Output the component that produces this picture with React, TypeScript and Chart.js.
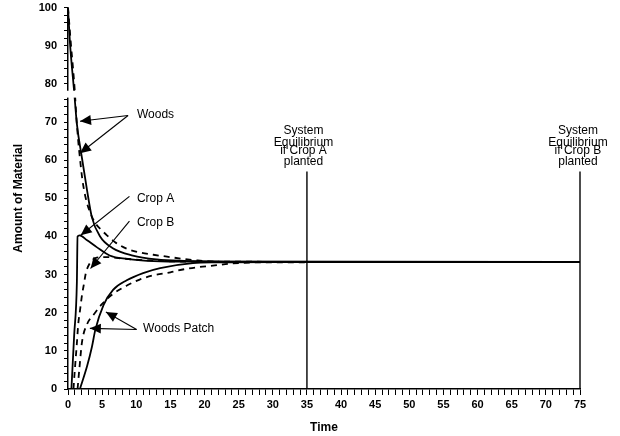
import React, { useEffect, useRef } from 'react';
import { Chart, registerables } from 'chart.js';

Chart.register(...registerables);

// ---- data (time, amount) ----
const woodsSolidT = [0, 0.3, 0.9, 1.3, 2.05, 2.8, 3.5, 4.7, 6.5, 9.5, 13, 17, 22, 75];
const woodsSolidV = [100, 90.5, 78, 69.5, 60.5, 52, 45, 40, 37, 35, 34, 33.6, 33.4, 33.3];

const woodsDashT = [0, 0.4, 1.0, 1.2, 1.5, 1.75, 2.1, 2.6, 3.2, 4, 5, 5.7, 6.9, 8.6, 10.5, 12.5, 14.5, 16.5, 19, 22, 26, 75];
const woodsDashV = [100, 91, 78, 72, 65, 60.5, 55, 50, 46.5, 43.5, 41.5, 40.3, 38.5, 36.8, 35.8, 35.2, 34.7, 34.2, 33.7, 33.4, 33.3, 33.3];

const cropAT = [0.5, 0.9, 1.3, 1.4, 1.7, 2.8, 4.2, 6.1, 8.6, 11.6, 16, 75];
const cropAV = [0, 14, 28, 40, 40.3, 39, 37.2, 35, 34.1, 33.6, 33.4, 33.3];

const cropBT = [0.8, 1.0, 1.3, 1.5, 1.75, 2.05, 2.35, 2.6, 3.2, 4, 5.5, 8, 12, 18, 75];
const cropBV = [0, 5, 12, 17, 20.5, 24.6, 27.7, 30.3, 33, 34.3, 34.6, 34.2, 33.7, 33.4, 33.3];

const patchSolidT = [1.75, 2.8, 3.5, 4, 5.2, 6.6, 8.6, 11, 13.5, 18.3, 22, 30, 75];
const patchSolidV = [0, 6, 11, 15.5, 22, 26, 28.5, 30.4, 31.7, 33, 33.2, 33.3, 33.3];

const patchDashT = [1.4, 1.7, 2.05, 2.8, 3.8, 5, 6.5, 8.5, 10.5, 12.5, 15, 17, 19.3, 21.5, 24, 28, 75];
const patchDashV = [0, 6, 12.3, 17, 19.6, 22.3, 24.8, 27, 28.7, 29.8, 30.6, 31.4, 32, 32.4, 32.9, 33.2, 33.3];

const eqTimes = [35, 75];
const eqRange = [0, 57];

const eqLabelsA = ['System', 'Equilibrium', 'if Crop A', 'planted'];
const eqLabelsB = ['System', 'Equilibrium', 'if Crop B', 'planted'];

const xMin = 0, xMax = 75, xStep = 1, xLabelEvery = 5;
const yMin = 0, yMax = 100, yStep = 2, yLabelEvery = 10;

const FONT = '"Liberation Sans", Arial, Helvetica, sans-serif';

const pts = (t: number[], v: number[]) => t.map((tt, i) => ({ x: tt, y: v[i] }));

function arrow(ctx: CanvasRenderingContext2D, x1: number, y1: number, x2: number, y2: number) {
  ctx.beginPath();
  ctx.moveTo(x1, y1);
  ctx.lineTo(x2, y2);
  ctx.stroke();
  const a = Math.atan2(y2 - y1, x2 - x1);
  const L = 11, W = 5;
  ctx.beginPath();
  ctx.moveTo(x2, y2);
  ctx.lineTo(x2 - L * Math.cos(a) + W * Math.sin(a), y2 - L * Math.sin(a) - W * Math.cos(a));
  ctx.lineTo(x2 - L * Math.cos(a) - W * Math.sin(a), y2 - L * Math.sin(a) + W * Math.cos(a));
  ctx.closePath();
  ctx.fill();
}

const annotPlugin = {
  id: 'annot',
  afterDraw(chart: any) {
    const { ctx, scales } = chart;
    const x = scales.x, y = scales.y;
    const px = (t: number) => x.getPixelForValue(t);
    const py = (v: number) => y.getPixelForValue(v);
    ctx.save();
    // axis break band
    ctx.fillStyle = '#fff';
    const bx = y.right - 9;
    ctx.fillRect(bx, py(78.2), px(2.3) - bx, py(76.4) - py(78.2));

    ctx.fillStyle = '#000';
    ctx.strokeStyle = '#000';
    ctx.lineWidth = 1.1;
    ctx.font = `12px ${FONT}`;
    ctx.textAlign = 'left';
    ctx.textBaseline = 'middle';
    ctx.fillText('Woods', px(10.1), py(72));
    ctx.fillText('Crop A', px(10.1), py(50));
    ctx.fillText('Crop B', px(10.1), py(43.7));
    ctx.fillText('Woods Patch', px(11), py(15.7));

    arrow(ctx, px(8.8), py(71.7), px(1.76), py(70.2));
    arrow(ctx, px(8.8), py(71.7), px(1.76), py(61.8));
    arrow(ctx, px(9.0), py(50.5), px(1.86), py(40.3));
    arrow(ctx, px(9.0), py(44), px(3.3), py(31.6));
    arrow(ctx, px(10.05), py(15.6), px(3.2), py(15.9));
    arrow(ctx, px(10.05), py(15.6), px(5.55), py(20.2));

    ctx.textAlign = 'center';
    ctx.font = `12px ${FONT}`;
    const lineVals = [67.6, 64.6, 62.4, 59.6];
    eqLabelsA.forEach((s, i) => ctx.fillText(s, px(34.5), py(lineVals[i])));
    eqLabelsB.forEach((s, i) => ctx.fillText(s, px(74.7), py(lineVals[i])));
    ctx.restore();
  },
};

export default function App() {
  const ref = useRef<HTMLCanvasElement>(null);
  useEffect(() => {
    const solid = (t: number[], v: number[]) => ({
      data: pts(t, v),
      borderColor: '#000',
      borderWidth: 1.8,
      pointRadius: 0,
      cubicInterpolationMode: 'monotone' as const,
      fill: false,
    });
    const dashed = (t: number[], v: number[]) => ({
      ...solid(t, v),
      borderDash: [6, 5],
    });
    const eqSets = eqTimes.map((t) => ({
      data: eqRange.map((v) => ({ x: t, y: v })),
      borderColor: '#000',
      borderWidth: 1.4,
      pointRadius: 0,
      clip: false as const,
    }));
    const tickFont = { family: FONT, size: 11, weight: 'bold' as const };
    const chart = new Chart(ref.current!, {
      type: 'line',
      data: {
        datasets: [
          solid(woodsSolidT, woodsSolidV),
          dashed(woodsDashT, woodsDashV),
          solid(cropAT, cropAV),
          dashed(cropBT, cropBV),
          solid(patchSolidT, patchSolidV),
          dashed(patchDashT, patchDashV),
          ...eqSets,
        ] as any,
      },
      options: {
        animation: false,
        responsive: true,
        maintainAspectRatio: false,
        layout: { padding: { top: 0, right: 40, left: 0, bottom: 0 } },
        plugins: { legend: { display: false }, tooltip: { enabled: false } },
        scales: {
          x: {
            type: 'linear',
            min: xMin,
            max: xMax,
            afterFit: (s: any) => { s.height = 47; },
            border: { color: '#000', width: 1.5 },
            grid: { drawOnChartArea: false, drawTicks: true, tickLength: 6, color: '#000', lineWidth: 1 },
            ticks: {
              stepSize: xStep,
              maxTicksLimit: 1000,
              autoSkip: false,
              maxRotation: 0,
              padding: 3,
              color: '#000',
              font: tickFont,
              callback: (v: any) => (Number(v) % xLabelEvery === 0 ? String(v) : ''),
            },
            title: {
              display: true,
              text: 'Time',
              color: '#000',
              font: { family: FONT, size: 12, weight: 'bold' },
              padding: { top: 0, bottom: 1 },
            },
          },
          y: {
            type: 'linear',
            min: yMin,
            max: yMax,
            afterFit: (s: any) => { s.width = 68; },
            border: { color: '#000', width: 1.5 },
            grid: { drawOnChartArea: false, drawTicks: true, tickLength: 4, color: '#000', lineWidth: 1 },
            ticks: {
              stepSize: yStep,
              maxTicksLimit: 1000,
              autoSkip: false,
              padding: 7,
              color: '#000',
              font: tickFont,
              callback: (v: any) => (Number(v) % yLabelEvery === 0 ? String(v) : ''),
            },
            title: {
              display: true,
              text: 'Amount of Material',
              color: '#000',
              font: { family: FONT, size: 12, weight: 'bold' },
              padding: { top: 11, bottom: 0 },
            },
          },
        },
      } as any,
      plugins: [annotPlugin],
    });
    return () => chart.destroy();
  }, []);
  return (
    <div style={{ position: 'fixed', left: 0, top: -6, width: 620, height: 442, background: '#fff' }}>
      <canvas ref={ref} />
    </div>
  );
}
